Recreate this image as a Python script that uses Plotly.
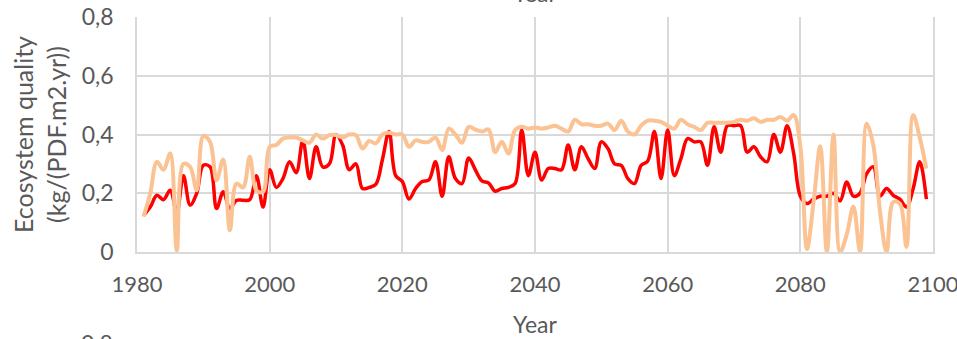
import plotly.graph_objects as go

# Yearly series, 1981-2099
years = list(range(1981, 2100))

quality_red = [
    0.125, 0.153, 0.193, 0.178, 0.21, 0.136, 0.26, 0.16, 0.2, 0.295,
    0.29, 0.148, 0.205, 0.148, 0.176, 0.176, 0.178, 0.26, 0.153, 0.28,
    0.22, 0.25, 0.307, 0.27, 0.38, 0.25, 0.358, 0.29, 0.30, 0.40,
    0.364, 0.28, 0.30, 0.216, 0.22, 0.23, 0.315, 0.41, 0.26, 0.24,
    0.18, 0.216, 0.24, 0.245, 0.307, 0.19, 0.324, 0.25, 0.233, 0.32,
    0.28, 0.242, 0.235, 0.207, 0.216, 0.22, 0.233, 0.415, 0.26, 0.34,
    0.245, 0.284, 0.284, 0.28, 0.364, 0.28, 0.358, 0.318, 0.284, 0.375,
    0.352, 0.30, 0.295, 0.25, 0.233, 0.295, 0.31, 0.41, 0.25, 0.415,
    0.26, 0.318, 0.386, 0.375, 0.375, 0.295, 0.426, 0.34, 0.43, 0.43,
    0.43, 0.34, 0.358, 0.324, 0.307, 0.40, 0.34, 0.43, 0.335, 0.19,
    0.165, 0.18, 0.19, 0.19, 0.2, 0.174, 0.238, 0.19, 0.2, 0.267,
    0.29, 0.19, 0.216, 0.193, 0.18, 0.153, 0.215, 0.307, 0.18,
]

quality_orange = [
    0.12, 0.2, 0.307, 0.28, 0.335, 0.005, 0.30, 0.29, 0.21, 0.395,
    0.375, 0.244, 0.315, 0.074, 0.233, 0.22, 0.324, 0.21, 0.205, 0.358,
    0.364, 0.386, 0.39, 0.39, 0.38, 0.372, 0.40, 0.386, 0.398, 0.398,
    0.39, 0.40, 0.398, 0.352, 0.378, 0.37, 0.40, 0.406, 0.40, 0.40,
    0.358, 0.38, 0.375, 0.375, 0.39, 0.347, 0.42, 0.40, 0.372, 0.426,
    0.417, 0.41, 0.417, 0.34, 0.375, 0.335, 0.415, 0.426, 0.42, 0.424,
    0.42, 0.424, 0.43, 0.42, 0.41, 0.45, 0.435, 0.435, 0.43, 0.43,
    0.437, 0.415, 0.447, 0.41, 0.40, 0.43, 0.447, 0.447, 0.443, 0.43,
    0.42, 0.45, 0.435, 0.426, 0.415, 0.44, 0.44, 0.44, 0.44, 0.443,
    0.45, 0.447, 0.455, 0.443, 0.45, 0.45, 0.46, 0.447, 0.466, 0.36,
    0.01, 0.17, 0.36, 0.0, 0.40, 0.0, 0.06, 0.155, 0.0, 0.437,
    0.364, 0.14, 0.0, 0.17, 0.165, 0.017, 0.466, 0.39, 0.284,
]

y_tickvals = [0, 0.2, 0.4, 0.6, 0.8]
y_ticktext = ["0", "0,2", "0,4", "0,6", "0,8"]
x_tickvals = [1980, 2000, 2020, 2040, 2060, 2080, 2100]

FONT = "Lato, Carlito, Calibri, sans-serif"
GREY = "#595959"
GRID = "#D9D9D9"

fig = go.Figure()
fig.add_trace(go.Scatter(
    x=years, y=quality_red, mode="lines",
    line=dict(color="#FF0000", width=3.5, shape="spline", smoothing=1.0),
    showlegend=False, hoverinfo="skip",
))
fig.add_trace(go.Scatter(
    x=years, y=quality_orange, mode="lines",
    line=dict(color="#FBC393", width=4, shape="spline", smoothing=1.0),
    showlegend=False, hoverinfo="skip",
))

fig.update_layout(
    width=957, height=339,
    margin=dict(l=137, r=24, t=17, b=87),
    paper_bgcolor="white", plot_bgcolor="white",
    font=dict(family=FONT, color=GREY, size=23),
    xaxis=dict(
        range=[1980, 2100], tickvals=x_tickvals, automargin=False,
        showgrid=True, gridcolor=GRID, gridwidth=1.5,
        showline=True, linecolor=GRID, linewidth=1.5, mirror=False,
        zeroline=False, ticks="", ticklabelstandoff=12,
        ticklabeloverflow="allow",
        tickfont=dict(size=22, color=GREY),
        title=dict(text="Year", font=dict(size=23, color=GREY), standoff=21),
    ),
    yaxis=dict(
        range=[0, 0.8], tickvals=y_tickvals, ticktext=y_ticktext,
        automargin=False,
        showgrid=True, gridcolor=GRID, gridwidth=1.5,
        showline=True, linecolor=GRID, linewidth=1.5, mirror=True,
        zeroline=False, ticks="", ticklabelstandoff=17,
        tickfont=dict(size=23, color=GREY),
        title=dict(text="Ecosystem quality<br>(kg/(PDF.m2.yr))",
                   font=dict(size=25, color=GREY), standoff=8),
    ),
    annotations=[
        # x-axis title of the panel above
        dict(text="Year", xref="paper", yref="paper", x=0.5, y=1.032,
             xanchor="center", yanchor="bottom", showarrow=False,
             font=dict(size=23, color=GREY)),
        # top y tick of the panel below
        dict(text="0,8", xref="paper", yref="paper", x=-0.028, y=-0.32,
             xanchor="right", yanchor="top", showarrow=False,
             font=dict(size=23, color=GREY)),
    ],
)

fig.write_html("out.html")
